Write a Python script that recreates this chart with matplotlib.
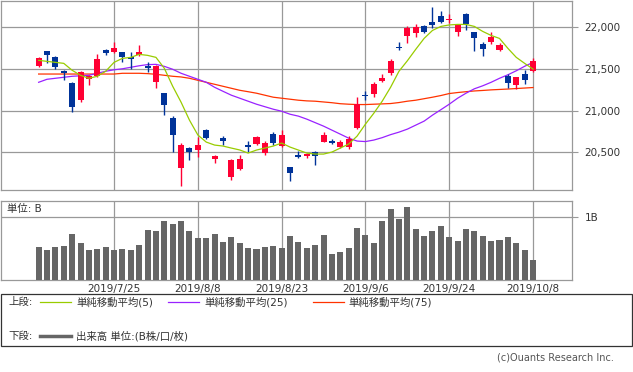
import numpy as np
import matplotlib
matplotlib.use("Agg")
import matplotlib.pyplot as plt
from matplotlib.patches import Rectangle

plt.rcParams['font.family'] = ['DejaVu Sans', 'Noto Sans CJK JP']

# 60 trading days, 2019/7/11 - 2019/10/8
dates = ["2019/7/11", "2019/7/12", "2019/7/16", "2019/7/17", "2019/7/18", "2019/7/19", "2019/7/22", "2019/7/23", "2019/7/24", "2019/7/25",
         "2019/7/26", "2019/7/29", "2019/7/30", "2019/7/31", "2019/8/1", "2019/8/2", "2019/8/5", "2019/8/6", "2019/8/7", "2019/8/8",
         "2019/8/9", "2019/8/13", "2019/8/14", "2019/8/15", "2019/8/16", "2019/8/19", "2019/8/20", "2019/8/21", "2019/8/22", "2019/8/23",
         "2019/8/26", "2019/8/27", "2019/8/28", "2019/8/29", "2019/8/30", "2019/9/2", "2019/9/3", "2019/9/4", "2019/9/5", "2019/9/6",
         "2019/9/9", "2019/9/10", "2019/9/11", "2019/9/12", "2019/9/13", "2019/9/17", "2019/9/18", "2019/9/19", "2019/9/20", "2019/9/24",
         "2019/9/25", "2019/9/26", "2019/9/27", "2019/9/30", "2019/10/1", "2019/10/2", "2019/10/3", "2019/10/4", "2019/10/7", "2019/10/8"]

opens = [21537, 21713, 21641, 21482, 21330, 21127, 21378, 21414, 21725, 21701,
         21701, 21641, 21665, 21534, 21342, 21211, 20912, 20314, 20553, 20529,
         20768, 20421, 20672, 20206, 20302, 20589, 20601, 20493, 20720, 20577,
         20326, 20469, 20457, 20505, 20625, 20637, 20565, 20565, 20792, 21187,
         21199, 21354, 21450, 21761, 21892, 21928, 22012, 22060, 22132, 22084,
         21940, 22156, 21940, 21797, 21821, 21725, 21414, 21306, 21438, 21474]
highs = [21645, 21713, 21653, 21494, 21342, 21474, 21426, 21677, 21737, 21821,
         21705, 21701, 21785, 21581, 21546, 21215, 20936, 20613, 20565, 20684,
         20780, 20470, 20696, 20421, 20469, 20637, 20696, 20637, 20744, 20768,
         20330, 20517, 20493, 20517, 20744, 20660, 20649, 20696, 21163, 21235,
         21342, 21438, 21617, 21821, 22012, 22036, 22024, 22251, 22203, 22167,
         22036, 22179, 21950, 21821, 21940, 21809, 21438, 21410, 21486, 21629]
lows = [21525, 21573, 21498, 21366, 20987, 21103, 21310, 21402, 21665, 21695,
        21581, 21498, 21653, 21462, 21270, 20948, 20505, 20098, 20409, 20445,
        20660, 20373, 20589, 20170, 20290, 20505, 20589, 20469, 20589, 20565,
        20158, 20433, 20433, 20350, 20620, 20601, 20553, 20541, 20780, 21127,
        21163, 21342, 21426, 21725, 21809, 21880, 21928, 21988, 22048, 22048,
        21892, 21964, 21713, 21653, 21797, 21713, 21270, 21258, 21318, 21460]
closes = [21638, 21665, 21522, 21458, 21040, 21462, 21414, 21617, 21689, 21749,
          21641, 21617, 21701, 21510, 21534, 21067, 20708, 20589, 20505, 20589,
          20672, 20457, 20637, 20409, 20421, 20565, 20684, 20613, 20613, 20708,
          20254, 20445, 20481, 20457, 20708, 20613, 20625, 20660, 21079, 21175,
          21318, 21390, 21593, 21749, 21988, 22000, 21940, 22024, 22060, 22096,
          22024, 22036, 21868, 21737, 21880, 21785, 21330, 21402, 21366, 21593]

ma5 = [21605, 21593, 21581, 21569, 21486, 21426, 21390, 21414, 21474, 21581,
       21629, 21641, 21677, 21665, 21641, 21510, 21294, 21103, 20888, 20710,
       20625, 20589, 20577, 20553, 20530, 20493, 20529, 20553, 20577, 20613,
       20565, 20529, 20493, 20481, 20481, 20505, 20553, 20601, 20696, 20840,
       20971, 21115, 21282, 21474, 21600, 21737, 21868, 21964, 22012, 22030,
       22036, 22036, 22012, 21952, 21904, 21868, 21749, 21641, 21569, 21500]
ma25 = [21342, 21378, 21390, 21402, 21414, 21420, 21426, 21450, 21474, 21492,
        21504, 21522, 21540, 21554, 21557, 21533, 21498, 21450, 21414, 21378,
        21342, 21282, 21234, 21187, 21151, 21115, 21079, 21049, 21019, 20995,
        20959, 20936, 20900, 20858, 20816, 20768, 20720, 20672, 20637, 20631,
        20649, 20678, 20714, 20744, 20780, 20828, 20876, 20948, 21013, 21079,
        21151, 21211, 21264, 21300, 21342, 21390, 21432, 21480, 21534, 21581]
ma75 = [21441, 21441, 21441, 21441, 21441, 21441, 21441, 21441, 21441, 21441,
        21450, 21450, 21450, 21446, 21438, 21426, 21414, 21406, 21390, 21366,
        21342, 21318, 21294, 21270, 21246, 21229, 21211, 21187, 21163, 21151,
        21139, 21127, 21119, 21115, 21106, 21097, 21085, 21079, 21075, 21075,
        21079, 21083, 21087, 21099, 21115, 21127, 21145, 21163, 21183, 21207,
        21219, 21229, 21238, 21244, 21251, 21256, 21261, 21267, 21273, 21279]

# volume in billions of shares
volume = [0.52, 0.47, 0.52, 0.545, 0.735, 0.59, 0.48, 0.50, 0.53, 0.48,
          0.50, 0.48, 0.56, 0.80, 0.78, 0.94, 0.89, 0.93, 0.77, 0.67,
          0.66, 0.735, 0.61, 0.69, 0.59, 0.51, 0.50, 0.53, 0.545, 0.51,
          0.70, 0.61, 0.51, 0.56, 0.72, 0.42, 0.45, 0.51, 0.83, 0.72,
          0.58, 0.93, 1.12, 0.97, 1.16, 0.81, 0.70, 0.78, 0.86, 0.69,
          0.62, 0.81, 0.77, 0.70, 0.62, 0.64, 0.69, 0.58, 0.48, 0.32]

date_ticks = ["2019/7/25", "2019/8/8", "2019/8/23", "2019/9/6", "2019/9/24", "2019/10/8"]
price_ticks = [20500, 21000, 21500, 22000]
ma_labels = ["単純移動平均(5)", "単純移動平均(25)", "単純移動平均(75)"]

RED = "#ff0033"
BLUE = "#003399"
GRID = "#999999"

W, H = 633, 372
fig = plt.figure(figsize=(W / 100, H / 100), dpi=100)


def rect(l, t, r, b):
    return [l / W, 1 - b / H, (r - l) / W, (b - t) / H]


idx = np.arange(len(dates))
o = np.array(opens)
c = np.array(closes)
up = c >= o
cols = np.where(up, RED, BLUE)
tick_idx = [dates.index(d) for d in date_ticks]
xlim = (-4.55, 63.65)

# upper panel: candles + moving averages
ax = fig.add_axes(rect(0.5, 0.5, 572, 190))
ax.set_xlim(*xlim)
ax.set_ylim(20050, 22323)
ax.vlines(idx, lows, highs, colors=cols, lw=1, zorder=3)
body = np.maximum(np.abs(c - o), 12)
ax.bar(idx, body, bottom=np.minimum(o, c), width=0.72, color=cols, zorder=4, linewidth=0)
ax.plot(idx, ma75, color="#ff3300", lw=0.9, zorder=2)
ax.plot(idx, ma25, color="#9922ff", lw=0.9, zorder=2)
ax.plot(idx, ma5, color="#99cc00", lw=0.9, zorder=5)

ax.set_xticks(tick_idx)
ax.set_xticklabels([])
ax.tick_params(axis="x", length=0)
ax.yaxis.tick_right()
ax.set_yticks(price_ticks)
ax.set_yticklabels([f"{v:,}" for v in price_ticks])
ax.tick_params(axis="y", length=4, width=0.8, color=GRID, pad=5, labelsize=7.5, labelcolor="#333333")
ax.grid(True, color=GRID, lw=0.9)
ax.set_axisbelow(True)
for s in ax.spines.values():
    s.set_color(GRID)
    s.set_linewidth(0.9)

# lower panel: volume
axv = fig.add_axes(rect(0.5, 201, 572, 280))
axv.set_xlim(*xlim)
axv.set_ylim(0, 1.254)
axv.bar(idx, volume, width=0.72, color="#666666", linewidth=0, zorder=3)
axv.set_xticks(tick_idx)
axv.set_xticklabels(date_ticks)
axv.tick_params(axis="x", length=0, pad=3, labelsize=7.5, labelcolor="#333333")
axv.yaxis.tick_right()
axv.set_yticks([1.0])
axv.set_yticklabels(["1B"])
axv.tick_params(axis="y", length=4, width=0.8, color=GRID, pad=5, labelsize=7.5, labelcolor="#333333")
axv.grid(True, color=GRID, lw=0.9)
axv.set_axisbelow(True)
for s in axv.spines.values():
    s.set_color(GRID)
    s.set_linewidth(0.9)

# overlay in pixel coords for unit label, legend box and credit
ov = fig.add_axes([0, 0, 1, 1], facecolor="none")
ov.set_xlim(0, W)
ov.set_ylim(H, 0)
ov.axis("off")
ov.text(7, 209, "単位: B", fontsize=7.5, va="center", color="#333333")

ov.add_patch(Rectangle((0.5, 294), 631, 52, fill=False, edgecolor="#333333", lw=0.9))
ov.text(8, 302, "上段:", fontsize=7.5, va="center", color="#333333")
ov.text(8, 336, "下段:", fontsize=7.5, va="center", color="#333333")
legend_items = [(40, 76, "#99cc00"), (168, 204, "#9922ff"), (313, 348, "#ff3300")]
for (x0, tx, col), lab in zip(legend_items, ma_labels):
    ov.plot([x0, x0 + 31], [302, 302], color=col, lw=0.9)
    ov.text(tx, 302, lab, fontsize=7.5, va="center", color="#333333")
ov.plot([40, 71], [336, 336], color="#666666", lw=2.5)
ov.text(76, 336, "出来高 単位:(B株/口/枚)", fontsize=7.5, va="center", color="#333333")
ov.text(614, 357, "(c)Ouants Research Inc.", fontsize=7, va="center", ha="right", color="#555555")

fig.savefig("out.png", dpi=100)
